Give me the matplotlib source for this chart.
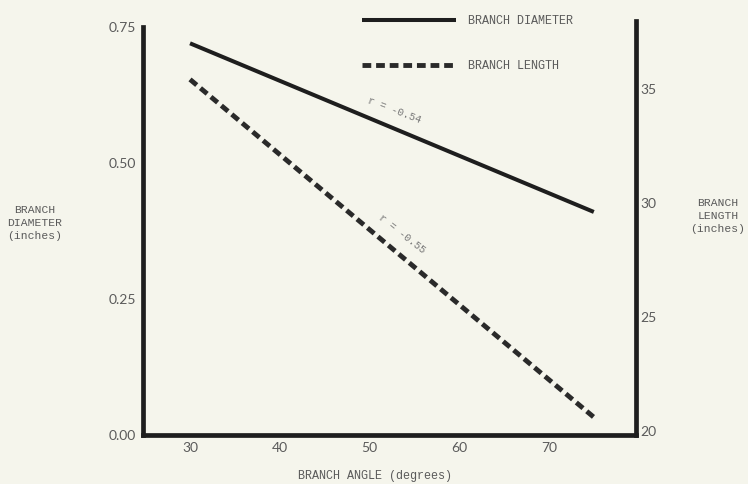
import matplotlib
matplotlib.use("Agg")
import matplotlib.pyplot as plt

# Branch angle vs. branch diameter / branch length (fitted regression lines)
ANGLE = [30, 75]
DIAMETER = [0.72, 0.41]
LENGTH = [35.4, 20.6]

X_TICKS = [30, 40, 50, 60, 70]
DIAM_TICKS = [0.00, 0.25, 0.50, 0.75]
DIAM_TICK_LABELS = ["0.00", "0.25", "0.50", "0.75"]
LENGTH_TICKS = [20, 25, 30, 35]

R_DIAMETER = "r = -0.54"
R_LENGTH = "r = -0.55"

BG = "#f5f5ec"
INK = "#1e1e1e"
GRAY = "#5a5a5a"
MONO = "Liberation Mono"
SANS = "Lato"


def run() -> None:
    fig = plt.figure(figsize=(7.48, 4.84), dpi=100, facecolor=BG)
    ax = fig.add_axes((143 / 748, 49 / 484, 493 / 748, 414 / 484))
    ax.set_facecolor(BG)
    ax2 = ax.twinx()

    ax.set_xlim(24.76, 79.7)
    ax.set_ylim(0, 0.761)
    ax2.set_ylim(19.82, 37.96)

    # axis frame: left, bottom, right only
    for side in ("top", "right"):
        ax.spines[side].set_visible(False)
    for side in ("top", "left", "bottom"):
        ax2.spines[side].set_visible(False)
    for sp in (ax.spines["left"], ax.spines["bottom"], ax2.spines["right"]):
        sp.set_linewidth(3.4)
        sp.set_color(INK)
        sp.set_capstyle("projecting")
    ax.spines["left"].set_bounds(0, 0.75)

    ax.set_xticks(X_TICKS)
    ax.set_xticklabels([str(t) for t in X_TICKS])
    ax.set_yticks(DIAM_TICKS)
    ax.set_yticklabels(DIAM_TICK_LABELS)
    ax2.set_yticks(LENGTH_TICKS)
    ax2.set_yticklabels([str(t) for t in LENGTH_TICKS])
    ax.tick_params(axis="x", length=0, pad=5, labelsize=10, labelcolor=GRAY)
    ax.tick_params(axis="y", length=0, pad=5, labelsize=10, labelcolor=GRAY)
    ax2.tick_params(axis="y", length=0, pad=3, labelsize=10, labelcolor=GRAY)
    for lab in ax.get_xticklabels() + ax.get_yticklabels() + ax2.get_yticklabels():
        lab.set_family(SANS)

    l1, = ax.plot(ANGLE, DIAMETER, color=INK, lw=2.9,
                  solid_capstyle="butt", label="BRANCH DIAMETER")
    l2, = ax2.plot(ANGLE, LENGTH, color="#2a2a2a", lw=3.5,
                   linestyle=(0, (1.8, 1.0)), dash_capstyle="butt",
                   label="BRANCH LENGTH")

    ax.text(52.8, 0.597, R_DIAMETER, rotation=-21, ha="center", va="center",
            family=MONO, fontsize=7.5, color="#777777")
    ax.text(53.6, 0.369, R_LENGTH, rotation=-38, ha="center", va="center",
            family=MONO, fontsize=7.5, color="#777777")

    fig.legend(
        handles=[l1, l2], loc="upper left",
        bbox_to_anchor=(362 / 748, 1 - 15 / 484),
        bbox_transform=fig.transFigure,
        frameon=False, borderpad=0, borderaxespad=0,
        handlelength=8.0, handletextpad=1.0, labelspacing=2.78,
        prop={"family": MONO, "size": 8.5},
        labelcolor=GRAY,
    )

    fig.text(35 / 748, 1 - 223 / 484, "BRANCH\nDIAMETER\n(inches)",
             ha="center", va="center", family=MONO, fontsize=8.2,
             color=GRAY, linespacing=1.35)
    fig.text(718 / 748, 1 - 216 / 484, "BRANCH\nLENGTH\n(inches)",
             ha="center", va="center", family=MONO, fontsize=8.2,
             color=GRAY, linespacing=1.35)
    fig.text(375 / 748, 1 - 476 / 484, "BRANCH ANGLE (degrees)",
             ha="center", va="center", family=MONO, fontsize=8.5,
             color=GRAY)

    fig.savefig("out.png", dpi=100, facecolor=BG)
    plt.close(fig)


if __name__ == "__main__":
    run()
